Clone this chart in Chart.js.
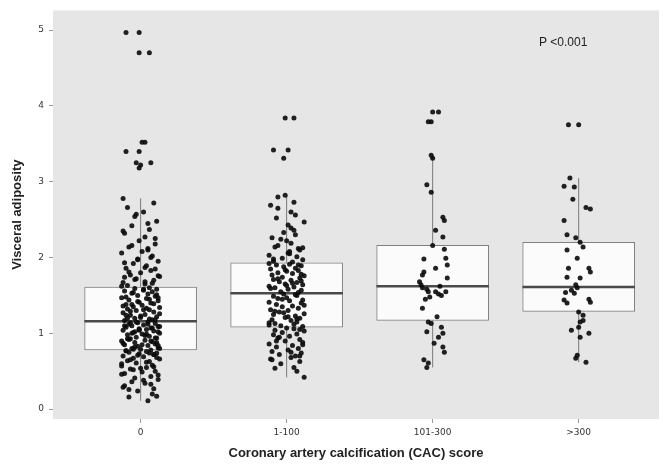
<!DOCTYPE html>
<html>
<head>
<meta charset="utf-8">
<script src="https://cdn.jsdelivr.net/npm/chart.js@4.4.1/dist/chart.umd.min.js"></script>
<style>
  html, body { margin: 0; padding: 0; background: #fff; }
  #wrap { width: 663px; height: 466px; position: relative; }
</style>
</head>
<body>
<div id="wrap"><canvas id="cac-chart"></canvas></div>
<script>
const groups = ['0', '1-100', '101-300', '>300'];
const yTicks = [0, 1, 2, 3, 4, 5];

// box statistics
const q1 = [0.78, 1.08, 1.17, 1.29];
const median = [1.16, 1.53, 1.62, 1.61];
const q3 = [1.61, 1.93, 2.16, 2.20];
const whiskerLow = [0.11, 0.42, 0.55, 0.62];
const whiskerHigh = [2.78, 2.82, 3.35, 3.05];

// CAC = 0
const cac0Values = [
  4.97, 4.97, 4.70, 4.70, 3.52, 3.52, 3.40, 3.40, 3.25, 3.22, 3.18, 3.25,
  0.11, 0.16, 0.17, 0.24, 0.27, 0.29, 0.34, 0.36, 0.39, 0.41, 0.43, 0.47, 0.49, 0.50, 0.53, 0.55,
  0.57, 0.58, 0.61, 0.63, 0.64, 0.66, 0.67, 0.69, 0.70, 0.72, 0.73, 0.74, 0.75, 0.76, 0.77, 0.78,
  0.79, 0.80, 0.81, 0.83, 0.84, 0.85, 0.86, 0.88, 0.89, 0.90, 0.91, 0.93, 0.94, 0.95, 0.96, 0.98,
  0.99, 1.00, 1.01, 1.03, 1.04, 1.05, 1.06, 1.07, 1.08, 1.09, 1.10, 1.11, 1.12, 1.13, 1.14, 1.15,
  1.17, 1.18, 1.20, 1.21, 1.22, 1.24, 1.25, 1.27, 1.28, 1.30, 1.31, 1.32, 1.34, 1.35, 1.37, 1.38,
  1.40, 1.41, 1.43, 1.44, 1.46, 1.47, 1.49, 1.50, 1.52, 1.53, 1.55, 1.56, 1.57, 1.58, 1.59, 1.60,
  1.63, 1.65, 1.67, 1.70, 1.72, 1.75, 1.77, 1.80, 1.83, 1.86, 1.89, 1.92, 1.95, 1.98, 2.02, 2.06,
  2.10, 2.14, 2.18, 2.22, 2.27, 2.32, 2.37, 2.42, 2.48, 2.54, 2.60, 2.66, 2.72, 2.78,
  0.20, 0.31, 0.38, 0.45, 0.52, 0.56, 0.60, 0.62, 0.65, 0.68, 0.71, 0.74, 0.77, 0.80, 0.82, 0.85,
  0.87, 0.90, 0.92, 0.94, 0.97, 1.00, 1.02, 1.05, 1.07, 1.10, 1.12, 1.15, 1.18, 1.20, 1.23, 1.26,
  1.29, 1.33, 1.36, 1.39, 1.42, 1.45, 1.48, 1.51, 1.54, 1.58, 1.62, 1.66, 1.71, 1.76, 1.81, 1.87,
  1.93, 2.00, 2.08, 2.16, 2.25, 2.35, 2.45, 2.57, 0.88, 0.93, 0.99, 1.04, 1.09, 1.14, 1.19, 1.24,
  1.31, 0.72, 0.79, 0.84, 0.46, 0.54, 0.33, 0.26, 1.68, 1.74, 1.85, 1.97, 2.12, 1.38, 1.47, 1.02
];
const cac0Jitter = [
  -0.10, -0.01, -0.01, 0.06, 0.01, 0.03, -0.10, -0.01, -0.03, 0.00,
  -0.01, 0.07, 0.05, -0.08, 0.11, -0.02, 0.09, -0.12, 0.03, -0.06,
  0.12, -0.04, 0.07, -0.11, 0.01, 0.10, -0.07, 0.04, -0.13, 0.08,
  -0.03, 0.06, -0.09, 0.13, -0.05, 0.02, -0.12, 0.09, -0.01, 0.11,
  -0.08, 0.04, -0.10, 0.07, 0.00, -0.06, 0.12, -0.02, 0.05, -0.11,
  0.10, -0.04, 0.08, -0.13, 0.03, -0.07, 0.11, -0.03, 0.06, -0.09,
  0.01, 0.13, -0.05, 0.09, -0.12, 0.04, -0.01, 0.07, -0.10, 0.12,
  -0.06, 0.02, -0.08, 0.10, -0.02, 0.05, -0.11, 0.08, -0.04, 0.00,
  0.11, -0.07, 0.03, -0.12, 0.09, -0.03, 0.06, -0.09, 0.13, -0.05,
  0.01, -0.10, 0.07, -0.01, 0.12, -0.08, 0.04, -0.13, 0.10, -0.02,
  0.05, -0.06, 0.08, -0.11, 0.02, 0.11, -0.04, 0.06, -0.09, 0.03,
  -0.12, 0.09, -0.03, 0.13, -0.07, 0.00, 0.07, -0.10, 0.04, -0.05,
  0.12, -0.02, 0.08, -0.13, 0.05, -0.08, 0.10, -0.01, 0.03, -0.11,
  0.06, -0.06, 0.11, -0.04, 0.02, -0.09, 0.09, -0.12,
  0.08, -0.11, 0.02, 0.12, -0.05, 0.09, -0.13, 0.04, -0.07, 0.11,
  -0.02, 0.06, -0.10, 0.13, -0.04, 0.01, -0.12, 0.07, -0.08, 0.10,
  0.03, -0.06, 0.12, -0.01, 0.08, -0.11, 0.05, -0.03, 0.10, -0.09,
  0.00, 0.13, -0.07, 0.04, -0.12, 0.09, -0.02, 0.06, -0.10, 0.11,
  -0.05, 0.02, -0.13, 0.08, -0.04, 0.12, -0.08, 0.03, -0.11, 0.07,
  0.01, -0.06, 0.10, -0.12, 0.05, -0.03, 0.11, -0.09, 0.04, -0.01,
  0.13, -0.07, 0.06, -0.10, 0.02, 0.09, -0.05, 0.12, -0.13, 0.00,
  0.07, -0.08, 0.03, -0.11, 0.10, -0.02, 0.05, -0.06, 0.12, -0.04
];

// CAC 1-100
const cac1Values = [
  3.84, 3.84, 3.42, 3.42, 3.31,
  2.80, 2.82, 2.73, 2.65, 2.56, 2.43, 2.39, 2.19, 2.14, 2.12, 2.06,
  1.94, 1.95, 1.97, 1.99, 2.01, 2.03, 2.08, 2.10, 2.16, 2.22, 2.26, 2.30, 2.33, 2.47, 2.52, 2.60, 2.69,
  1.54, 1.55, 1.57, 1.58, 1.60, 1.61, 1.62, 1.64, 1.65, 1.67, 1.68, 1.70, 1.71, 1.73,
  1.74, 1.76, 1.77, 1.79, 1.80, 1.82, 1.83, 1.85, 1.86, 1.88, 1.89, 1.90, 1.91, 1.92,
  1.09, 1.10, 1.12, 1.13, 1.15, 1.17, 1.18, 1.20, 1.21, 1.23, 1.25, 1.26, 1.28, 1.30,
  1.31, 1.33, 1.35, 1.36, 1.38, 1.40, 1.41, 1.43, 1.44, 1.46, 1.47, 1.49, 1.50, 1.52,
  0.42, 0.54, 0.55, 0.60, 0.63, 0.66, 0.68, 0.70, 0.72, 0.74, 0.76, 0.78, 0.80, 0.82,
  0.84, 0.86, 0.88, 0.90, 0.92, 0.94, 0.96, 0.98, 0.99, 1.01, 1.03, 1.04, 1.06, 1.07,
  0.50, 0.65, 0.75, 0.85, 0.95, 1.05, 1.14, 1.22, 1.29, 1.37, 1.45, 1.51, 1.59, 1.66, 1.72,
  1.78, 1.84, 1.90, 1.98, 2.05, 2.13, 2.24, 2.36, 1.11, 1.19, 1.27, 0.70, 0.90, 1.63, 1.69
];
const cac1Jitter = [
  -0.01, 0.05, -0.09, 0.01, -0.02,
  -0.06, -0.01, 0.05, -0.06, 0.06, 0.01, 0.03, 0.03, -0.08, 0.08, 0.01,
  0.04, -0.09, 0.11, -0.03, 0.07, -0.12, 0.02, 0.09, -0.06, 0.00,
  -0.10, 0.06, -0.02, 0.12, -0.07, 0.03, -0.11, 0.08, -0.04, 0.10,
  0.01, -0.08, 0.05, -0.12, 0.11, -0.01, 0.07, -0.05, 0.03, -0.09,
  0.09, -0.03, 0.12, -0.10, 0.04, -0.06, 0.00, 0.08, -0.11, 0.06,
  -0.02, 0.10, -0.07, 0.02, -0.12, 0.11, -0.04, 0.05, -0.08, 0.07,
  0.03, -0.10, 0.09, -0.01, 0.06, -0.09, 0.12, -0.05, 0.01, -0.11,
  0.08, -0.03, 0.04, -0.07, 0.10, -0.12, 0.02, 0.11, -0.06, 0.00,
  -0.09, 0.07, -0.02, 0.12, -0.08, 0.05, -0.04, 0.09, -0.11, 0.03,
  0.06, -0.05, 0.10, -0.10, 0.01, 0.08, -0.07, 0.04, -0.12, 0.11,
  -0.01, 0.09, -0.06, 0.02, -0.09, 0.07, -0.03, 0.12, -0.08, 0.05,
  0.00,
  0.07, -0.10, 0.03, 0.11, -0.05, 0.09, -0.12, 0.01, -0.08, 0.12,
  -0.03, 0.06, -0.11, 0.04, -0.06, 0.10, -0.01, 0.08, -0.09, 0.02,
  0.11, -0.04, 0.05, -0.12, 0.07, -0.02, 0.09, -0.07, 0.00, 0.10
];

// CAC 101-300
const cac2Values = [
  3.92, 3.92, 3.79, 3.79, 3.35, 3.31, 2.96, 2.86, 2.53, 2.49, 2.36, 2.27, 2.16, 2.11,
  1.99, 1.98, 1.90, 1.86, 1.81, 1.77, 1.73, 1.68, 1.64, 1.60, 1.58, 1.55, 1.55, 1.52,
  1.50, 1.55, 1.33, 1.15, 1.13, 1.08, 0.87, 0.82, 0.75, 0.65, 0.61, 0.55,
  1.22, 1.02, 1.00, 0.95, 1.45, 1.62, 1.48
];
const cac2Jitter = [
  0.00, 0.04, -0.03, -0.01, -0.01, 0.00, -0.04, -0.01, 0.07, 0.08, 0.02, 0.07, 0.00, 0.08,
  0.09, -0.06, 0.10, 0.02, -0.06, -0.07, 0.10, -0.09, -0.08, -0.07, -0.04, -0.03, 0.02, 0.04,
  0.06, 0.09, -0.07, -0.03, -0.01, 0.06, 0.01, 0.07, 0.08, -0.06, -0.03, -0.04,
  0.03, -0.04, 0.07, 0.04, -0.05, 0.05, -0.02
];

// CAC >300
const cac3Values = [
  3.75, 3.75, 3.05, 2.94, 2.93, 2.77, 2.66, 2.64, 2.49, 2.30, 2.26, 2.20, 2.14, 2.10,
  1.99, 1.86, 1.81, 1.86, 1.74, 1.73, 1.64, 1.57, 1.53, 1.54, 1.60, 1.44, 1.40, 1.45,
  1.41, 1.28, 1.24, 1.17, 1.15, 1.04, 1.08, 0.95, 1.00, 0.71, 0.67, 0.62
];
const cac3Jitter = [
  -0.07, 0.00, -0.06, -0.10, -0.03, -0.04, 0.05, 0.08, -0.10, -0.08, -0.02, 0.01, 0.03, -0.08,
  -0.01, 0.07, 0.08, -0.07, -0.08, 0.01, -0.02, -0.05, -0.03, -0.09, -0.01, -0.10, -0.08, 0.07,
  0.08, 0.00, 0.03, 0.03, 0.01, -0.05, 0.00, 0.01, 0.07, -0.01, -0.02, 0.05
];

const pointValues = [cac0Values, cac1Values, cac2Values, cac3Values];
const pointJitter = [cac0Jitter, cac1Jitter, cac2Jitter, cac3Jitter];

const boxHalf = 0.385;

const jitterData = [];
pointValues.forEach((vals, g) => {
  vals.forEach((v, k) => jitterData.push({x: g + pointJitter[g][k], y: v}));
});

const datasets = [{
  type: 'scatter',
  data: jitterData,
  pointRadius: 2.5,
  pointBackgroundColor: 'rgba(10,10,10,0.9)',
  pointBorderWidth: 0,
  order: 0
}];

groups.forEach((g, i) => {
  datasets.push({
    type: 'line',
    data: [{x: i - boxHalf, y: median[i]}, {x: i + boxHalf, y: median[i]}],
    borderColor: '#4a4a4a',
    borderWidth: 2.5,
    pointRadius: 0,
    order: 1
  });
  datasets.push({
    type: 'line',
    data: [{x: i, y: whiskerLow[i]}, {x: i, y: q1[i]}, {x: i, y: null}, {x: i, y: q3[i]}, {x: i, y: whiskerHigh[i]}],
    borderColor: '#7a7a7a',
    borderWidth: 1,
    pointRadius: 0,
    spanGaps: false,
    order: 3
  });
});

datasets.push({
  type: 'bar',
  data: groups.map((g, i) => ({x: i, y: [q1[i], q3[i]]})),
  backgroundColor: '#fbfbfb',
  borderColor: '#808080',
  borderWidth: 1,
  borderSkipped: false,
  barThickness: 112,
  order: 2
});

const panelBg = {
  id: 'panelBg',
  beforeDraw(chart) {
    const {ctx, chartArea: a} = chart;
    ctx.save();
    ctx.fillStyle = '#ffffff';
    ctx.fillRect(0, 0, chart.width, chart.height);
    ctx.fillStyle = '#e6e6e6';
    ctx.fillRect(a.left, a.top, a.right - a.left, a.bottom - a.top);
    ctx.restore();
  }
};

const pLabel = {
  id: 'pLabel',
  afterDraw(chart) {
    const {ctx, chartArea: a} = chart;
    ctx.save();
    ctx.fillStyle = '#222';
    ctx.font = '12px "Liberation Sans", Arial, sans-serif';
    ctx.textBaseline = 'middle';
    ctx.fillText('P <0.001', a.right - 120, a.top + 32);
    ctx.restore();
  }
};

new Chart(document.getElementById('cac-chart'), {
  type: 'scatter',
  data: {datasets},
  options: {
    responsive: true,
    maintainAspectRatio: false,
    animation: false,
    devicePixelRatio: 1,
    layout: {padding: {top: 10, right: 0, left: 0, bottom: 0}},
    plugins: {legend: {display: false}, tooltip: {enabled: false}},
    scales: {
      x: {
        type: 'linear',
        offset: false,
        min: -0.6,
        max: 3.55,
        afterBuildTicks: (s) => { s.ticks = groups.map((g, i) => ({value: i})); },
        afterFit: (s) => { s.height = 47; },
        grid: {display: true, offset: false, drawOnChartArea: false, drawTicks: true, tickLength: 4, color: '#9a9a9a'},
        border: {display: false},
        ticks: {
          callback: (v) => groups[v],
          color: '#333',
          font: {size: 9, family: '"DejaVu Sans", sans-serif'},
          padding: 4,
          maxRotation: 0
        },
        title: {
          display: true,
          text: 'Coronary artery calcification (CAC) score',
          color: '#222',
          font: {size: 13, weight: 'bold', family: '"Liberation Sans", Arial, sans-serif'},
          padding: {top: 0, bottom: 5}
        }
      },
      y: {
        min: -0.13,
        max: 5.26,
        afterBuildTicks: (s) => { s.ticks = yTicks.map(v => ({value: v})); },
        afterFit: (s) => { s.width = 53; },
        grid: {display: true, drawOnChartArea: false, drawTicks: true, tickLength: 4, color: '#9a9a9a'},
        border: {display: false},
        ticks: {
          color: '#333',
          font: {size: 9, family: '"DejaVu Sans", sans-serif'},
          padding: 5
        },
        title: {
          display: true,
          text: 'Visceral adiposity',
          color: '#222',
          font: {size: 13, weight: 'bold', family: '"Liberation Sans", Arial, sans-serif'},
          padding: {top: 10, bottom: 0}
        }
      }
    }
  },
  plugins: [panelBg, pLabel]
});
</script>
</body>
</html>
